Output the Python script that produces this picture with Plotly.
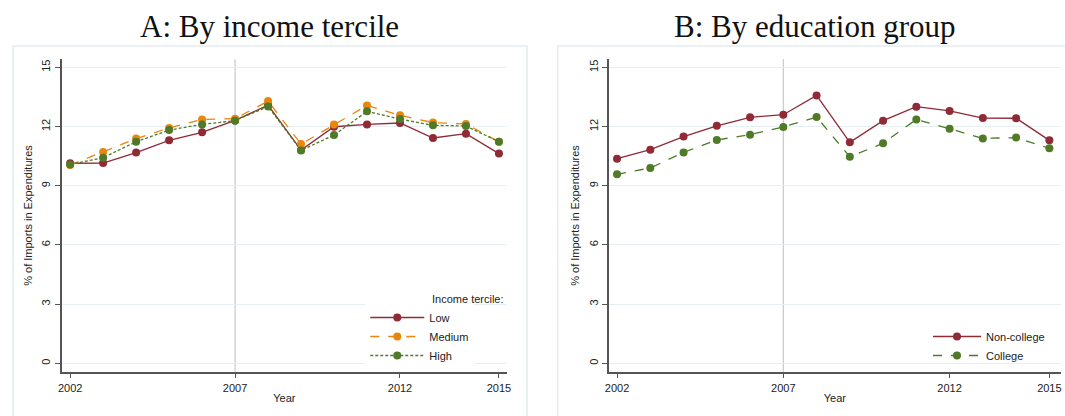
import plotly.graph_objects as go

years = list(range(2002, 2016))

low = [10.14, 10.15, 10.68, 11.30, 11.71, 12.31, 13.09, 10.81, 11.99, 12.11, 12.18, 11.42, 11.64, 10.63]
medium = [10.05, 10.71, 11.39, 11.93, 12.36, 12.40, 13.29, 11.11, 12.11, 13.07, 12.57, 12.20, 12.13, 11.23]
high = [10.08, 10.42, 11.23, 11.82, 12.11, 12.30, 13.02, 10.79, 11.57, 12.77, 12.38, 12.06, 12.03, 11.23]

noncollege = [10.37, 10.83, 11.49, 12.04, 12.47, 12.60, 13.58, 11.20, 12.30, 13.01, 12.79, 12.43, 12.42, 11.30]
college = [9.58, 9.90, 10.69, 11.32, 11.59, 11.98, 12.48, 10.47, 11.15, 12.36, 11.89, 11.40, 11.44, 10.90]

x_ticks = [2002, 2007, 2012, 2015]
y_ticks = [0, 3, 6, 9, 12, 15]

titles = ["A: By income tercile", "B: By education group"]

W, H = 1065, 416
MAROON = "#8f2a36"
ORANGE = "#e8860e"
GREEN = "#4f7a28"
SANS = "Liberation Sans, Arial, sans-serif"

def px_x(p):
    return p / W

def px_y(p):
    return 1 - p / H

fig = go.Figure()

def add(x, y, name, color, dash, xa, ya, legend):
    fig.add_trace(go.Scatter(
        x=x, y=y, name=name, mode="lines+markers",
        line=dict(color=color, width=1.3, dash=dash),
        marker=dict(color=color, size=8),
        xaxis=xa, yaxis=ya, legend=legend,
    ))

add(years, low, "Low", MAROON, "solid", "x", "y", "legend")
add(years, medium, "Medium", ORANGE, "dash", "x", "y", "legend")
add(years, high, "High", GREEN, "3px,2px", "x", "y", "legend")
add(years, noncollege, "Non-college", MAROON, "solid", "x2", "y2", "legend2")
add(years, college, "College", GREEN, "dash", "x2", "y2", "legend2")

tickfont = dict(family=SANS, size=11, color="#222")
titlefont = dict(family=SANS, size=11, color="#222")

ydom = [px_y(371.7), px_y(59.3)]
yaxis_common = dict(
    domain=ydom, range=[-0.43, 15.41], tickvals=y_ticks, tickangle=-90,
    showgrid=True, gridcolor="#e6eff1", gridwidth=1,
    zeroline=False, showline=True, linecolor="#555", linewidth=1.5,
    ticks="outside", ticklen=5, tickcolor="#555", tickfont=tickfont,
    title=dict(text="% of Imports in Expenditures", font=titlefont, standoff=6),
)
xaxis_common = dict(
    tickvals=x_ticks, showgrid=False, zeroline=False, showline=True,
    linecolor="#555", linewidth=1.5, ticks="outside", ticklen=5, tickcolor="#555",
    tickfont=tickfont, title=dict(text="Year", font=titlefont, standoff=2),
)

fig.update_layout(
    width=W, height=H, margin=dict(l=0, r=0, t=0, b=0),
    paper_bgcolor="white", plot_bgcolor="white",
    xaxis=dict(domain=[px_x(58), px_x(507)], range=[2001.74, 2015.25], anchor="y", **xaxis_common),
    yaxis=dict(anchor="x", **yaxis_common),
    xaxis2=dict(domain=[px_x(609.3), 1.0], range=[2001.75, 2015.35], anchor="y2", **xaxis_common),
    yaxis2=dict(anchor="x2", **yaxis_common),
    legend=dict(x=px_x(364), y=px_y(303), xanchor="left", yanchor="top",
                bgcolor="white", font=dict(family=SANS, size=11, color="#222"),
                tracegroupgap=0, itemwidth=54),
    legend2=dict(x=px_x(931), y=px_y(322), xanchor="left", yanchor="top",
                 bgcolor="rgba(255,255,255,0)", font=dict(family=SANS, size=11, color="#222"),
                 tracegroupgap=0, itemwidth=48),
    showlegend=True,
)

# panel boxes
fig.add_shape(type="rect", xref="paper", yref="paper", x0=px_x(9), x1=px_x(527), y0=px_y(420), y1=px_y(46),
              line=dict(color="#e4ecef", width=1.5), fillcolor="rgba(0,0,0,0)", layer="below")
fig.add_shape(type="rect", xref="paper", yref="paper", x0=px_x(558), x1=px_x(1075), y0=px_y(420), y1=px_y(46),
              line=dict(color="#e4ecef", width=1.5), fillcolor="rgba(0,0,0,0)", layer="below")

# vertical reference line at 2007
for xa, ya in (("x", "y"), ("x2", "y2")):
    fig.add_shape(type="line", xref=xa, yref="paper", x0=2007, x1=2007, y0=ydom[0], y1=ydom[1],
                  line=dict(color="#c8c8c8", width=1.2), layer="below")

# legend title for panel A
fig.add_annotation(text="Income tercile:", xref="paper", yref="paper", x=px_x(429), y=px_y(299),
                   xanchor="left", yanchor="middle", showarrow=False,
                   font=dict(family=SANS, size=11, color="#222"))

# panel titles
for t, cx in zip(titles, (267.5, 817)):
    fig.add_annotation(text=t, xref="paper", yref="paper", x=px_x(cx), y=px_y(26),
                       xanchor="center", yanchor="middle", showarrow=False,
                       font=dict(family="Liberation Serif, Times New Roman, serif", size=31, color="#111"))

fig.write_html("out.html")
